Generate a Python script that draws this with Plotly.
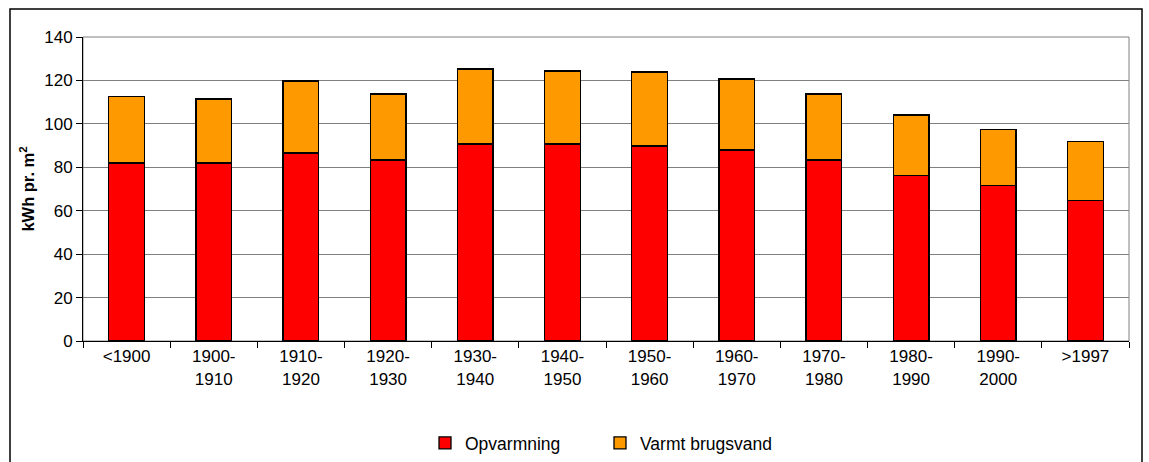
import plotly.graph_objects as go

categories = ["<1900", "1900-<br>1910", "1910-<br>1920", "1920-<br>1930", "1930-<br>1940",
              "1940-<br>1950", "1950-<br>1960", "1960-<br>1970", "1970-<br>1980",
              "1980-<br>1990", "1990-<br>2000", ">1997"]
opvarmning = [82, 82, 86.6, 83.4, 90.7, 90.7, 89.8, 88, 83.4, 76.1, 71.5, 64.8]
varmt_brugsvand = [30.6, 29.5, 33.2, 30.4, 34.6, 33.7, 34.1, 32.7, 30.4, 28.0, 25.8, 27.2]
y_ticks = [0, 20, 40, 60, 80, 100, 120, 140]

fig = go.Figure()
fig.add_trace(go.Bar(x=categories, y=opvarmning, name="Opvarmning",
                     marker=dict(color="#FF0000", line=dict(color="black", width=1.3))))
fig.add_trace(go.Bar(x=categories, y=varmt_brugsvand, name="Varmt brugsvand",
                     marker=dict(color="#FF9900", line=dict(color="black", width=1.3))))

L, R, T, B = 83, 20, 37, 121
W, H = 1149, 462
pw, ph = W - L - R, H - T - B

def px_x(x):
    return (x - L) / pw

def px_y(y):
    return (H - B - y) / ph

fig.update_layout(
    width=W, height=H,
    margin=dict(l=L, r=R, t=T, b=B, autoexpand=False),
    barmode="stack", bargap=0.59,
    paper_bgcolor="white", plot_bgcolor="white",
    font=dict(family="Liberation Sans, Arial, sans-serif", size=17, color="black"),
    showlegend=True,
    legend=dict(orientation="h", x=px_x(425), xanchor="left", y=px_y(443), yanchor="middle",
                font=dict(size=17.5), itemwidth=30, entrywidth=130, traceorder="normal",
                itemclick=False, bgcolor="rgba(0,0,0,0)"),
    xaxis=dict(showgrid=False, showline=True, linecolor="black", linewidth=1,
               ticks="outside", ticklen=6, tickcolor="black", tickson="boundaries",
               tickfont=dict(size=17), tickangle=0, automargin=False),
    yaxis=dict(range=[0, 140], tickvals=y_ticks, showgrid=True, gridcolor="#808080", gridwidth=1,
               showline=True, linecolor="black", linewidth=1, ticks="outside", ticklen=6,
               tickcolor="black", tickfont=dict(size=17), zeroline=False, automargin=False,
               title=dict(text="<b>kWh pr. m<sup>2</sup></b>", font=dict(size=16.5), standoff=5)),
    shapes=[
        dict(type="rect", xref="paper", yref="paper", x0=0, x1=1, y0=0, y1=1,
             line=dict(color="#808080", width=1), layer="below"),
        dict(type="rect", xref="paper", yref="paper", x0=px_x(10), x1=px_x(1142),
             y0=px_y(475), y1=px_y(9), line=dict(color="black", width=1.5)),
    ],
)

fig.write_html("out.html", config={"displayModeBar": False},
               post_script="document.body.style.margin='0';document.body.style.padding='0';")
